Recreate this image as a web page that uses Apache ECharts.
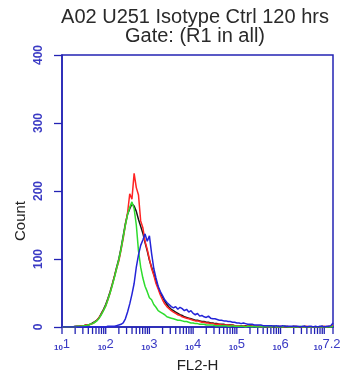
<!DOCTYPE html>
<html>
<head>
<meta charset="utf-8">
<script src="https://cdn.jsdelivr.net/npm/echarts@6/dist/echarts.min.js"></script>
<style>
  html, body { margin: 0; padding: 0; background: #fff; }
  #chart { width: 351px; height: 379px; }
</style>
</head>
<body>
<div id="chart"></div>
<script>
// FL2-H histogram overlay, log10 channel axis
const TITLE = 'A02 U251 Isotype Ctrl 120 hrs\nGate: (R1 in all)';
const X_NAME = 'FL2-H';
const Y_NAME = 'Count';

// channels: log10(FL2-H) from 1.0 in steps of 0.05
const X_START = 1.0;
const X_STEP = 0.05;
const X_LABELS = [1, 2, 3, 4, 5, 6, 7.2];
const Y_TICKS = [0, 100, 200, 300, 400];

const RED = [
  0, 0, 0, 0, 0, 0,
  0, 1, 1, 2, 2, 3, 3, 4, 5,
  7, 10, 14, 19, 25, 31, 40, 50, 62, 74,
  86, 97, 113, 130, 150, 168, 196, 188, 226, 205,
  194, 156, 146, 126, 114, 100, 86, 76, 64, 56,
  47, 40, 34, 30, 27, 24, 22, 20, 18, 17,
  15, 14, 13, 12, 11, 10, 9, 9, 8, 7,
  7, 6, 6, 5, 5, 4, 4, 4, 3, 3,
  3, 3, 2, 3, 2, 2, 2, 1, 2, 1,
  1, 1, 1, 1, 1, 1, 0, 1, 1, 0,
  1, 0, 1, 0, 0, 1, 0, 0, 1, 0,
  0, 0, 1, 0, 0, 0, 0, 1, 0, 0,
  0, 0, 0, 0, 0, 1, 0, 1, 0, 3
];
const GREEN = [
  0, 0, 0, 0, 0, 0,
  0, 1, 1, 1, 2, 2, 3, 4, 5,
  7, 9, 13, 18, 24, 31, 40, 50, 61, 73,
  86, 99, 114, 132, 150, 165, 176, 184, 174, 150,
  112, 88, 72, 60, 52, 43, 40, 33, 29, 24,
  22, 20, 18, 15, 14, 13, 12, 11, 10, 10,
  9, 8, 8, 7, 6, 6, 5, 5, 4, 4,
  4, 3, 3, 3, 3, 2, 2, 2, 2, 2,
  2, 1, 1, 2, 1, 1, 1, 1, 1, 0,
  1, 1, 0, 1, 0, 0, 1, 0, 0, 1,
  0, 0, 1, 0, 0, 0, 0, 1, 0, 0,
  0, 0, 0, 0, 1, 0, 0, 0, 0, 0,
  0, 0, 0, 0, 0, 0, 0, 0, 0, 1
];
const BLACK = [
  0, 0, 0, 0, 0, 0,
  1, 1, 1, 2, 2, 3, 3, 4, 6,
  8, 10, 14, 20, 26, 33, 42, 52, 63, 75,
  88, 100, 116, 134, 152, 166, 174, 181, 178, 170,
  158, 148, 138, 124, 112, 98, 88, 78, 68, 58,
  50, 44, 38, 33, 29, 26, 24, 22, 20, 18,
  17, 15, 14, 13, 12, 11, 10, 10, 9, 8,
  8, 7, 7, 6, 6, 5, 5, 4, 4, 4,
  3, 3, 3, 3, 2, 2, 2, 2, 2, 2,
  1, 2, 1, 1, 1, 1, 1, 1, 0, 1,
  1, 0, 1, 0, 1, 0, 0, 1, 0, 0,
  0, 1, 0, 0, 0, 0, 1, 0, 0, 0,
  0, 0, 0, 0, 1, 0, 0, 0, 0, 2
];
const BLUE = [
  0, 0, 0, 0, 0, 0,
  0, 0, 0, 0, 0, 0, 0, 0, 0,
  0, 0, 0, 0, 0, 0, 1, 1, 1, 1,
  2, 3, 4, 6, 12, 22, 34, 48, 64, 88,
  106, 120, 128, 137, 126, 134, 108, 86, 72, 60,
  52, 46, 40, 36, 33, 30, 28, 30, 26, 29,
  27, 24, 26, 22, 24, 20, 18, 20, 16, 17,
  15, 14, 16, 13, 12, 12, 11, 10, 10, 9,
  9, 8, 8, 7, 7, 6, 6, 5, 6, 5,
  4, 4, 4, 3, 3, 3, 3, 2, 2, 2,
  2, 2, 1, 2, 1, 1, 2, 1, 1, 1,
  1, 1, 1, 1, 0, 1, 1, 0, 1, 1,
  0, 1, 0, 1, 1, 0, 1, 1, 2, 6
];

const AXIS_BLUE = '#2323b4';
const LABEL_BLUE = '#3a3ac4';
const FONT = '"Liberation Sans", Arial, sans-serif';

const X_MIN = X_LABELS[0];
const X_MAX = X_LABELS[X_LABELS.length - 1];

// log minor ticks: k * 10^d
const xTicks = [];
for (let d = Math.floor(X_MIN); d <= Math.ceil(X_MAX); d++) {
  for (let k = 1; k <= 9; k++) {
    const v = d + Math.log10(k);
    if (v >= X_MIN && v <= X_MAX + 1e-9) xTicks.push(v);
  }
}
if (xTicks[xTicks.length - 1] < X_MAX) xTicks.push(X_MAX);

const toPairs = arr => arr.map((c, i) => [X_START + i * X_STEP, c]);

const SERIES = [
  { name: 'black', data: BLACK, color: '#161616' },
  { name: 'red', data: RED, color: '#ff2424' },
  { name: 'green', data: GREEN, color: '#2edc2e' },
  { name: 'blue', data: BLUE, color: '#2424d8' },
];

const chart = echarts.init(document.getElementById('chart'), null, { renderer: 'canvas' });

chart.setOption({
  backgroundColor: '#ffffff',
  animation: false,
  title: {
    text: TITLE,
    left: 195,
    top: 8,
    padding: 0,
    textAlign: 'center',
    textStyle: {
      fontFamily: FONT,
      fontSize: 20,
      fontWeight: 'normal',
      color: '#2a2a2a',
      lineHeight: 19,
    },
  },
  graphic: [{
    type: 'text',
    x: 21,
    y: 221,
    rotation: Math.PI / 2,
    style: {
      text: Y_NAME,
      fontFamily: FONT,
      fontSize: 15,
      fill: '#222',
      align: 'center',
      verticalAlign: 'middle',
    },
  }],
  grid: {
    left: 62, right: 18, top: 55, bottom: 52,
    show: true,
    borderColor: AXIS_BLUE,
    borderWidth: 1.5,
    backgroundColor: 'transparent',
  },
  xAxis: {
    type: 'value',
    min: X_MIN,
    max: X_MAX,
    name: X_NAME,
    nameLocation: 'middle',
    nameGap: 31,
    nameTextStyle: { fontFamily: FONT, fontSize: 15, color: '#222' },
    axisLine: { show: true, onZero: false, lineStyle: { color: AXIS_BLUE, width: 1.5 } },
    axisTick: { show: false },
    axisLabel: {
      customValues: X_LABELS,
      margin: 11,
      formatter: v => {
        const last = v === X_MAX;
        return '{b|10}{e|' + (last ? X_MAX.toFixed(1) : String(v)) + '}' + (last ? '{p|}' : '');
      },
      rich: {
        b: { fontFamily: FONT, fontSize: 8, fontWeight: 'bold', color: LABEL_BLUE, verticalAlign: 'bottom', lineHeight: 14 },
        e: { fontFamily: FONT, fontSize: 13, color: LABEL_BLUE, verticalAlign: 'top', lineHeight: 14 },
        p: { width: 12 },
      },
    },
    splitLine: { show: false },
  },
  yAxis: {
    type: 'value',
    min: Y_TICKS[0],
    max: Y_TICKS[Y_TICKS.length - 1],
    interval: Y_TICKS[1] - Y_TICKS[0],
    axisLine: { show: true, lineStyle: { color: AXIS_BLUE, width: 1.5 } },
    axisTick: { show: true, length: 8, lineStyle: { color: AXIS_BLUE, width: 1.3 } },
    axisLabel: {
      rotate: 90,
      margin: 17,
      fontFamily: FONT,
      fontSize: 12,
      fontWeight: 'bold',
      color: LABEL_BLUE,
    },
    splitLine: { show: false },
  },
  series: [
    ...SERIES.map(s => ({
      type: 'line',
      name: s.name,
      data: toPairs(s.data),
      symbol: 'none',
      smooth: false,
      lineStyle: { color: s.color, width: 1.5 },
    })),
    {
      // log-decade tick marks below the x axis
      type: 'custom',
      silent: true,
      clip: false,
      data: xTicks.map(v => [v, 0]),
      encode: { x: 0, y: 1 },
      renderItem: (params, api) => {
        const p = api.coord([api.value(0), 0]);
        return {
          type: 'line',
          shape: { x1: p[0], y1: p[1], x2: p[0], y2: p[1] + 7 },
          style: { stroke: AXIS_BLUE, lineWidth: 1.3 },
        };
      },
    },
  ],
});
</script>
</body>
</html>
